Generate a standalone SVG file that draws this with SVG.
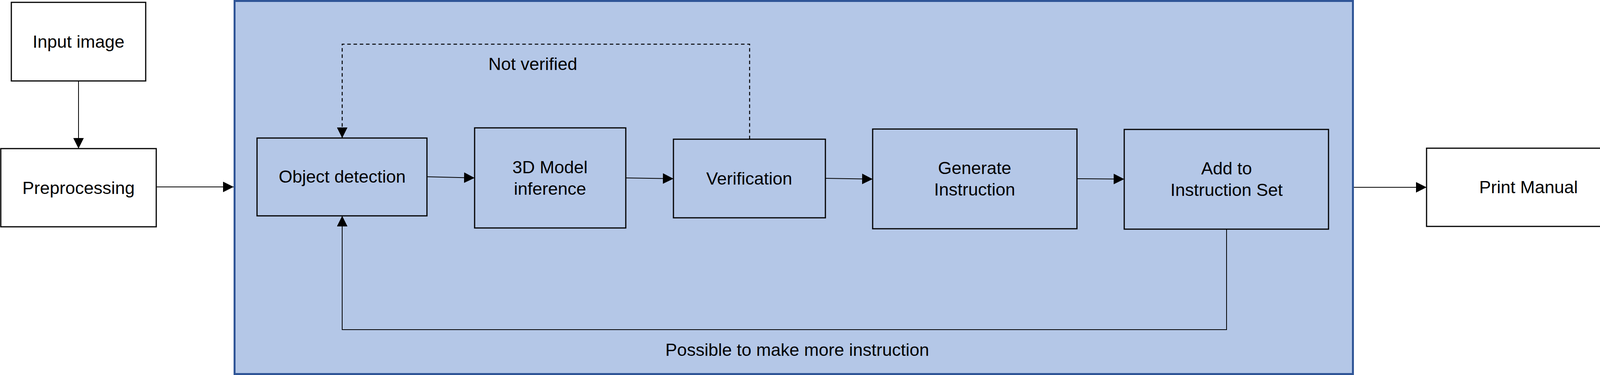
<svg xmlns="http://www.w3.org/2000/svg" width="4178" height="959" viewBox="0 0 4178 959">
<style>
.box{stroke:#000;stroke-width:3;}
.w{fill:#fff;}
.b{fill:#B4C7E7;}
text{font-family:"Liberation Sans",Arial,sans-serif;font-size:45px;fill:#000;text-anchor:middle;}
.c{fill:none;stroke:#000;stroke-width:2;}
.d{stroke-dasharray:9 7;stroke-width:2.5;}
</style>
<defs>
<marker id="ah" markerUnits="userSpaceOnUse" markerWidth="27" markerHeight="27" refX="27" refY="13.5" orient="auto" viewBox="0 0 27 27">
<path d="M0,0 L27,13.5 L0,27 Z" fill="#000"/>
</marker>
</defs>
<rect width="4178" height="959" fill="#fff"/>
<g id="container">
<rect x="600.5" y="2.5" width="2863" height="954" fill="#B4C7E7" stroke="#2F5597" stroke-width="5"/>
</g>
<g id="input-image">
<rect class="box w" x="29" y="6" width="344" height="201"/>
<text x="201" y="122">Input image</text>
</g>
<g id="preprocessing">
<rect class="box w" x="2" y="380" width="398" height="200"/>
<text x="201" y="496">Preprocessing</text>
</g>
<g id="object-detection">
<rect class="box b" x="658" y="353" width="435" height="199"/>
<text x="876" y="467">Object detection</text>
</g>
<g id="model-inference">
<rect class="box b" x="1215" y="327" width="387" height="256"/>
<text x="1408" y="443">3D Model</text>
<text x="1408" y="498">inference</text>
</g>
<g id="verification">
<rect class="box b" x="1724" y="356" width="389" height="201"/>
<text x="1918" y="472">Verification</text>
</g>
<g id="generate-instruction">
<rect class="box b" x="2234" y="330" width="523" height="255"/>
<text x="2495" y="445">Generate</text>
<text x="2495" y="500">Instruction</text>
</g>
<g id="add-instruction-set">
<rect class="box b" x="2878" y="331" width="523" height="255"/>
<text x="3140" y="446">Add to</text>
<text x="3140" y="501">Instruction Set</text>
</g>
<g id="print-manual">
<rect class="box w" x="3652" y="379" width="521" height="200"/>
<text x="3913" y="494">Print Manual</text>
</g>
<g id="connectors">
<line class="c" x1="201" y1="207" x2="201" y2="380" marker-end="url(#ah)"/>
<line class="c" x1="400" y1="478" x2="598" y2="478" marker-end="url(#ah)"/>
<line class="c" x1="1093" y1="452" x2="1215" y2="455" marker-end="url(#ah)"/>
<line class="c" x1="1602" y1="455" x2="1724" y2="457" marker-end="url(#ah)"/>
<line class="c" x1="2113" y1="456" x2="2234" y2="458" marker-end="url(#ah)"/>
<line class="c" x1="2757" y1="457" x2="2878" y2="458" marker-end="url(#ah)"/>
<line class="c" x1="3466" y1="479" x2="3652" y2="479" marker-end="url(#ah)"/>
<path class="c d" d="M1919,356 V113 H876 V353" marker-end="url(#ah)"/>
<path class="c" d="M3140,586 V843 H876 V552" marker-end="url(#ah)"/>
<text x="1364" y="179">Not verified</text>
<text x="2041" y="910">Possible to make more instruction</text>
</g>
</svg>
